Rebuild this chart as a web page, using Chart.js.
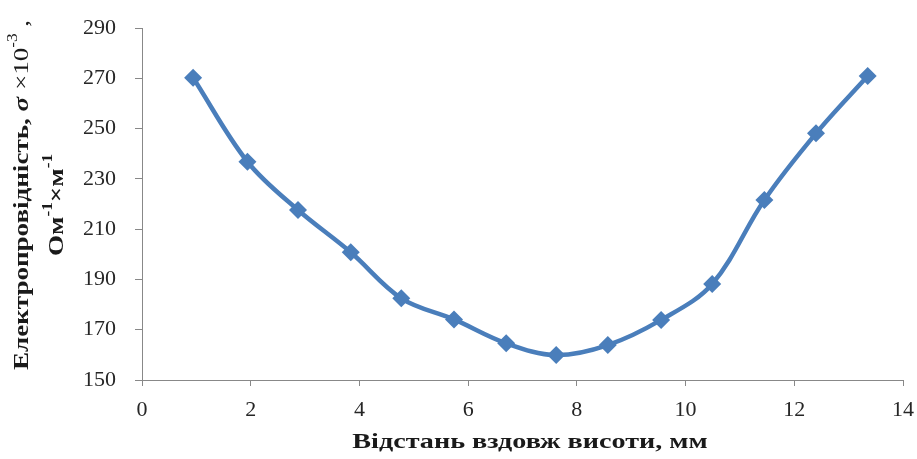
<!DOCTYPE html>
<html>
<head>
<meta charset="utf-8">
<script src="https://cdn.jsdelivr.net/npm/chart.js@4"></script>
<style>
  body { margin: 0; background: #fff; }
</style>
</head>
<body>
<canvas id="chart" width="917" height="459"></canvas>
<script>
// values
const distance = [0.94, 1.94, 2.87, 3.84, 4.77, 5.74, 6.70, 7.62, 8.57, 9.55, 10.49, 11.45, 12.40, 13.35];
const conductivity = [270.2, 236.8, 217.6, 200.8, 182.5, 174.1, 164.6, 159.9, 163.9, 173.9, 188.2, 221.6, 248.1, 270.9];

const xTitle = 'Відстань вздовж висоти, мм';
const yTitleLine1 = [
  { text: 'Електропровідність, ', style: 'bold' },
  { text: 'σ', style: 'bold italic' },
  { text: ' ×10', style: '' },
  { text: '-3', style: '', sup: true },
  { text: ' ,', style: '' }
];
const yTitleLine2 = [
  { text: 'Ом', style: 'bold' },
  { text: '-1', style: 'bold', sup: true },
  { text: '×м', style: 'bold' },
  { text: '-1', style: 'bold', sup: true }
];

const serif = '"Liberation Serif", "Times New Roman", serif';

function runFont(r, size) {
  const s = r.sup ? Math.round(size * 0.62) : size;
  return (r.style ? r.style + ' ' : '') + s + 'px ' + serif;
}

// draws a line made of runs, centered on 0,0 of the current transform
function drawRuns(ctx, runs, size) {
  let total = 0;
  runs.forEach(r => { ctx.font = runFont(r, size); total += ctx.measureText(r.text).width; });
  let x = -total / 2;
  runs.forEach(r => {
    ctx.font = runFont(r, size);
    ctx.fillText(r.text, x, r.sup ? -size * 0.38 : 0);
    x += ctx.measureText(r.text).width;
  });
}

const titlesPlugin = {
  id: 'titles',
  afterDraw(chart) {
    const ctx = chart.ctx;
    ctx.save();
    ctx.fillStyle = '#1a1a1a';
    ctx.textBaseline = 'middle';

    // y title, two rotated lines
    ctx.save();
    ctx.translate(22, 195);
    ctx.rotate(-Math.PI / 2);
    ctx.scale(1.23, 1);
    drawRuns(ctx, yTitleLine1, 22);
    ctx.restore();

    ctx.save();
    ctx.translate(57, 205);
    ctx.rotate(-Math.PI / 2);
    ctx.scale(1.23, 1);
    drawRuns(ctx, yTitleLine2, 22);
    ctx.restore();

    // x title
    ctx.save();
    ctx.translate(530, 442);
    ctx.scale(1.28, 1);
    drawRuns(ctx, [{ text: xTitle, style: 'bold' }], 22);
    ctx.restore();

    ctx.restore();
  }
};

new Chart(document.getElementById('chart'), {
  type: 'line',
  data: {
    datasets: [{
      data: distance.map((d, i) => ({ x: d, y: conductivity[i] })),
      borderColor: '#4a7ebb',
      backgroundColor: '#4a7ebb',
      borderWidth: 4.5,
      tension: 0.35,
      pointStyle: 'rectRot',
      pointRadius: 9,
      pointHoverRadius: 9,
      pointBorderWidth: 0
    }]
  },
  options: {
    responsive: false,
    animation: false,
    layout: { padding: { left: 0, right: 14, top: 28, bottom: 0 } },
    plugins: { legend: { display: false }, tooltip: { enabled: false } },
    scales: {
      x: {
        type: 'linear',
        min: 0,
        max: 14,
        ticks: { stepSize: 2, color: '#262626', padding: 11, font: { family: serif, size: 22 } },
        grid: { drawOnChartArea: false, color: '#888', tickLength: 6 },
        border: { color: '#888', width: 1 },
        afterFit(scale) {
          scale.height = 79;
          scale.paddingLeft = 0;
          scale.paddingRight = 0;
        }
      },
      y: {
        min: 150,
        max: 290,
        ticks: { stepSize: 20, color: '#262626', padding: 19, font: { family: serif, size: 22 } },
        grid: { drawOnChartArea: false, color: '#888', tickLength: 7 },
        border: { color: '#888', width: 1 },
        afterFit(scale) {
          scale.width = 142;
          scale.paddingTop = 0;
          scale.paddingBottom = 0;
        }
      }
    }
  },
  plugins: [titlesPlugin]
});
</script>
</body>
</html>
